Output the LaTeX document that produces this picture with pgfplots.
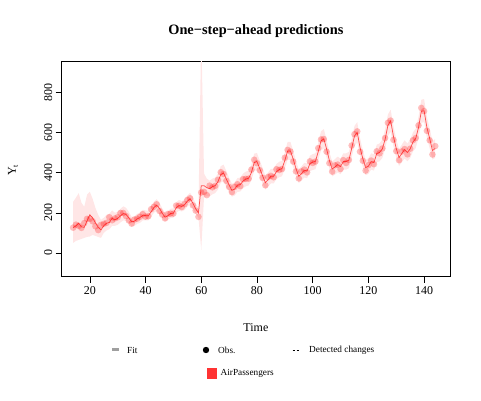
\documentclass[border=0pt]{standalone}
\usepackage{fontspec}
\setmainfont{Liberation Serif}
\usepackage{pgfplots}
\pgfplotsset{compat=1.18}
\usepgfplotslibrary{fillbetween}
\usepackage{pgfplotstable}
\definecolor{FitRed}{HTML}{FF3A3A}
\definecolor{BandRed}{HTML}{FFE6E6}

% t, observed (AirPassengers, +100 from t=60), one-step-ahead fit, band
\pgfplotstableread{
t obs fit lo hi
14 126 126 50 255
15 141 135 60 275
16 135 148 65 298
17 125 130 70 250
18 149 128 75 230
19 170 160 80 290
20 170 190 82 305
21 158 175 90 270
22 133 150 85 225
23 114 128 80 190
24 140 115 75 165
25 145 135 100 175
26 150 148 112 190
27 178 152 118 195
28 163 172 135 212
29 172 165 135 200
30 178 172 140 205
31 199 185 152 220
32 199 196 162 232
33 184 192 160 225
34 162 175 148 205
35 146 155 132 180
36 166 158 135 182
37 171 170 145 195
38 180 176 150 202
39 193 188 162 215
40 181 186 162 212
41 183 185 162 210
42 218 205 180 232
43 230 226 200 255
44 242 238 210 268
45 209 222 195 250
46 191 198 175 222
47 172 178 158 200
48 194 186 165 208
49 196 196 174 220
50 196 198 176 222
51 236 225 200 252
52 235 236 210 264
53 229 232 207 258
54 243 240 214 267
55 264 258 231 286
56 272 270 242 299
57 237 248 220 277
58 211 220 195 246
59 180 200 176 225
60 301 335 15 1100
61 304 335 280 395
62 288 325 282 370
63 335 320 282 360
64 327 330 292 370
65 334 335 298 375
66 364 355 316 395
67 402 390 350 432
68 393 398 358 440
69 359 368 330 408
70 329 338 303 374
71 303 312 280 345
72 329 318 286 351
73 342 338 304 373
74 333 340 306 375
75 367 358 322 395
76 369 368 332 405
77 370 372 336 409
78 415 400 362 439
79 464 450 408 494
80 447 455 413 498
81 412 420 380 461
82 374 385 347 424
83 337 350 316 385
84 378 365 330 401
85 384 382 346 419
86 377 382 346 419
87 417 405 368 443
88 413 415 377 454
89 418 420 382 459
90 474 460 420 501
91 513 508 464 553
92 505 508 464 553
93 455 468 427 510
94 406 420 383 458
95 371 382 348 417
96 406 395 360 431
97 415 412 376 449
98 401 408 372 445
99 456 445 407 484
100 448 452 413 492
101 455 456 417 496
102 522 505 462 549
103 565 558 511 606
104 567 568 520 617
105 504 518 474 563
106 447 460 420 501
107 405 418 381 456
108 436 428 390 467
109 440 440 401 480
110 418 430 392 469
111 462 455 415 496
112 448 455 415 496
113 463 462 422 503
114 535 520 476 565
115 591 582 533 632
116 605 600 550 651
117 504 525 480 571
118 459 470 429 512
119 410 425 387 464
120 437 432 394 471
121 460 455 415 496
122 442 450 410 491
123 506 495 452 539
124 496 500 456 545
125 520 518 473 564
126 572 565 516 615
127 648 635 582 689
128 659 658 604 713
129 563 580 530 631
130 507 520 475 566
131 462 475 433 518
132 505 495 452 539
133 517 515 470 561
134 491 500 456 545
135 519 518 473 564
136 561 552 505 600
137 572 570 522 619
138 635 625 573 678
139 722 705 648 763
140 706 708 651 766
141 608 625 573 678
142 561 570 521 620
143 490 510 465 556
144 532 520 474 567
}\airdata

\begin{document}
\begin{tikzpicture}
\path (0,0) rectangle (481bp,401bp);
\begin{axis}[
  at={(61.7bp,124.3bp)}, anchor=south west,
  scale only axis, width=388.3bp, height=215bp,
  xmin=9.9, xmax=149.3, ymin=-118, ymax=952,
  xtick={20,40,...,140}, ytick={0,200,...,800},
  xtick pos=left, ytick pos=left, tick align=outside,
  major tick length=6bp,
  tick style={black, line width=0.6bp},
  axis line style={black, line width=0.6bp},
  ticklabel style={font=\fontsize{12}{14}\selectfont},
  /pgf/number format/assume math mode=true,
  scaled ticks=false,
  yticklabel style={rotate=90, anchor=south},
  clip=true,
]
\addplot[name path=hi, draw=none, forget plot] table[x=t, y=hi] {\airdata};
\addplot[name path=lo, draw=none, forget plot] table[x=t, y=lo] {\airdata};
\addplot[BandRed, draw=none, forget plot] fill between[of=hi and lo];
\addplot[only marks, color=red, mark=*, mark size=3.3bp,
  mark options={draw opacity=0, fill=red, fill opacity=0.25}] table[x=t, y=obs] {\airdata};
\addplot[FitRed, line width=0.75bp, draw opacity=0.85, mark=none] table[x=t, y=fit] {\airdata};
\end{axis}

\begin{scope}[x=1bp, y=-1bp, yshift=401bp]
  \node[font=\bfseries\fontsize{14.4}{16}\selectfont] at (255.9,31) {One\textminus step\textminus ahead predictions};
  \node[font=\fontsize{12}{14}\selectfont] at (255.9,328) {Time};
  \node[font=\fontsize{12}{14}\selectfont, rotate=90] at (13,170) {Y\textsubscript{\fontsize{8}{9}\selectfont t}};
  % legend
  \fill[gray!75] (111.5,348.5) rectangle (118.5,351.5);
  \node[font=\fontsize{9.3}{11}\selectfont, anchor=west, inner sep=0pt] at (127,350) {Fit};
  \fill[black] (206,350) circle (3.2);
  \node[font=\fontsize{9.3}{11}\selectfont, anchor=west, inner sep=0pt] at (218,350) {Obs.};
  \draw[black, line width=0.6bp, dash pattern=on 2bp off 2bp] (292.5,350) -- (300,350);
  \node[font=\fontsize{9.3}{11}\selectfont, anchor=west, inner sep=0pt] at (309,350) {Detected changes};
  \fill[red!80] (206.5,368.5) rectangle (217,379);
  \node[font=\fontsize{9.3}{11}\selectfont, anchor=west, inner sep=0pt] at (220.5,373.5) {AirPassengers};
\end{scope}
\end{tikzpicture}
\end{document}
